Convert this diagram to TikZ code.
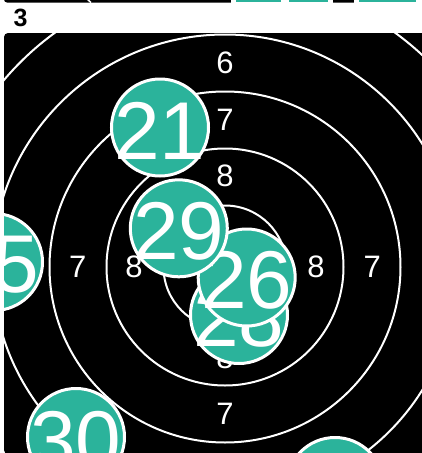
\documentclass[tikz,border=0pt]{standalone}
\usepackage{fontspec}
\setmainfont{Liberation Sans}
\definecolor{Board}{HTML}{000000}
\definecolor{HitTeal}{HTML}{2BB39B}
\definecolor{RingLine}{HTML}{FFFFFF}

\begin{document}
\begin{tikzpicture}[x=1pt, y=-1pt,
    ring/.style={draw=RingLine, line width=2pt},
    ringlabel/.style={text=RingLine, font=\fontsize{31}{31}\selectfont, inner sep=0pt},
    hit/.style={circle, fill=HitTeal, draw=white, line width=3pt, minimum size=97pt, inner sep=0pt},
    hitnum/.style={text=white, font=\fontsize{82}{82}\selectfont, inner sep=0pt, yshift=-3pt},
    paneltag/.style={font=\fontsize{25}{25}\selectfont\bfseries, inner sep=0pt}
]

\useasboundingbox (0,0) rectangle (422,453);

% bottom edge of the panel above
\fill[Board, rounded corners=3pt] (4,-10) rectangle (426,2.5);
\draw[RingLine, line width=1.5pt] (87,-1) -- (91,2.5);
\fill[white] (231,0) rectangle (333,2.5);
\fill[white] (354,0) rectangle (422,2.5);
\fill[HitTeal] (236,0) rectangle (281,2.3);
\fill[HitTeal] (289,0) rectangle (328,2.3);
\fill[HitTeal] (359,0) rectangle (416,2.3);

\node[paneltag] (tag) at (20.5,17.5) {3};

\begin{scope}
\clip[rounded corners=4pt] (4,33) rectangle (426,454);
\fill[Board] (4,33) rectangle (426,454);

\coordinate (ctr) at (225,267);
\foreach \k in {0,...,4}
    \draw[ring] (ctr) circle ({61.5pt+57pt*\k});

\foreach \v/\r in {8/91,7/147.3} {
    \node[ringlabel] (n\v) at ([yshift=\r pt]ctr) {\v};
    \node[ringlabel] (s\v) at ([yshift=-\r pt]ctr) {\v};
    \node[ringlabel] (w\v) at ([xshift=-\r pt]ctr) {\v};
    \node[ringlabel] (e\v) at ([xshift=\r pt]ctr) {\v};
}
\node[ringlabel] (n6) at ([yshift=204pt]ctr) {6};

% hits
\node[hit] (h21) at (160,127.5) {};
\node[hitnum] (t21) at (h21) {21};
\node[hit] (h28) at (239,315) {};
\node[hitnum] (t28) at (h28) {28};
\node[hit] (h26) at (246.7,277.5) {};
\node[hitnum] (t26) at (h26) {26};
\node[hit] (h29) at (178.8,228.3) {};
\node[hitnum] (t29) at (h29) {29};
\node[hit] (h5) at (-6,262) {};
\node[hitnum] (t5) at (16.5,262) {5};
\node[hit] (h30) at (76,437) {};
\node[hitnum] (t30) at (h30) {30};
\node[hit] (hse) at (335,486) {};
\end{scope}

\end{tikzpicture}
\end{document}
